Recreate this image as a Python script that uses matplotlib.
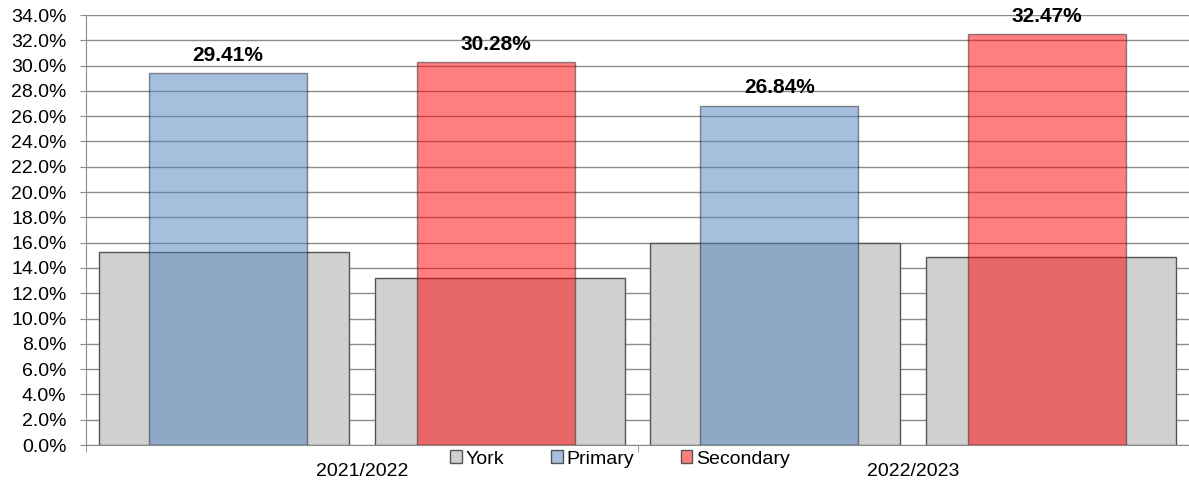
import numpy as np
import matplotlib.pyplot as plt
from matplotlib.patches import Patch

# school years and attendance percentages
years = ['2021/2022', '2022/2023']
york_vs_primary = [15.3, 16.0]
york_vs_secondary = [13.2, 14.9]
primary = [29.41, 26.84]
secondary = [30.28, 32.47]

plt.rcParams['font.family'] = ['Liberation Sans', 'DejaVu Sans']

fig = plt.figure(figsize=(11.89, 4.84), dpi=100)
ax = fig.add_axes([86 / 1189, 1 - 445 / 484, 1 - 86 / 1189, 430 / 484])

x = np.arange(len(years))
edge = '#555555'

# York background bars, two per year
ax.bar(x - 0.25, york_vs_primary, width=0.453, color='#D0D0D0', edgecolor=edge, linewidth=1, zorder=2)
ax.bar(x + 0.25, york_vs_secondary, width=0.453, color='#D0D0D0', edgecolor=edge, linewidth=1, zorder=2)

# phase bars drawn semi-transparent on top
bp = ax.bar(x - 0.243, primary, width=0.287, color='#4F81BD', alpha=0.5, edgecolor='#202020', linewidth=1, zorder=3)
bs = ax.bar(x + 0.243, secondary, width=0.287, color='#FF0000', alpha=0.5, edgecolor='#202020', linewidth=1, zorder=3)

for bars, vals in [(bp, primary), (bs, secondary)]:
    for b, v in zip(bars, vals):
        ax.annotate(f'{v:.2f}%', (b.get_x() + b.get_width() / 2, v), xytext=(0, 6),
                    textcoords='offset points', ha='center', va='bottom',
                    fontsize=15, fontweight='bold', zorder=5)

ax.set_xlim(-0.5, 1.5)
ax.set_ylim(0, 34)
ax.set_yticks(np.arange(0, 35, 2))
ax.set_yticklabels([f'{v:.1f}%' for v in np.arange(0, 35, 2)])
ax.yaxis.grid(True, color='#8C8C8C', linewidth=1, zorder=1)
ax.set_axisbelow(True)
ax.tick_params(axis='y', length=4, color='#8C8C8C', pad=10, labelsize=14)

ax.set_xticks(x)
ax.set_xticklabels(years)
ax.set_xticks([-0.5, 0.5, 1.5], minor=True)
ax.tick_params(axis='x', which='major', length=0, pad=13, labelsize=14)
ax.tick_params(axis='x', which='minor', length=5, color='#8C8C8C')

for s in ['top', 'right']:
    ax.spines[s].set_visible(False)
ax.spines['left'].set_color('#8C8C8C')
ax.spines['bottom'].set_color('#8C8C8C')

handles = [Patch(facecolor='#D0D0D0', edgecolor=edge, label='York'),
           Patch(facecolor='#A7BFDE', edgecolor=edge, label='Primary'),
           Patch(facecolor='#FF7F7F', edgecolor=edge, label='Secondary')]
fig.legend(handles=handles, loc='center', bbox_to_anchor=(620 / 1189, 1 - 459 / 484), ncol=3,
           frameon=False, fontsize=14, handlelength=0.6, handleheight=0.6,
           handletextpad=0.2, columnspacing=2.4, borderpad=0)

fig.savefig('out.png', dpi=100)
